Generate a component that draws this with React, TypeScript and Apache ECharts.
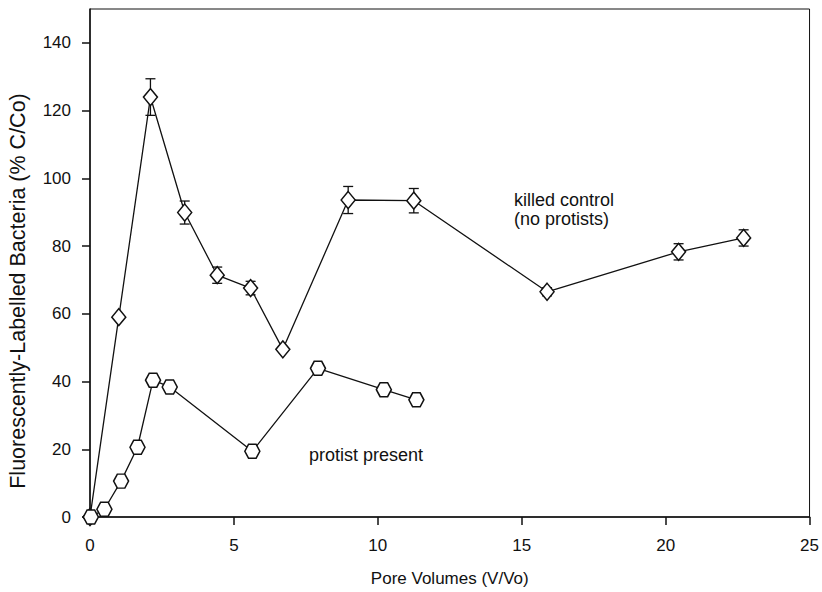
import React, { useEffect, useRef } from "react";
import * as echarts from "echarts";

const killedX = [0, 1.0, 2.1, 3.29, 4.42, 5.58, 6.7, 8.97, 11.25, 15.88, 20.45, 22.71];
const killedY = [0, 59.0, 124.0, 89.9, 71.4, 67.6, 49.5, 93.6, 93.4, 66.5, 78.3, 82.4];
const killedErr = [0, 0, 5.4, 3.4, 2.4, 2.0, 0, 4.0, 3.6, 1.2, 2.4, 2.4];

const protistX = [0.03, 0.5, 1.08, 1.65, 2.19, 2.77, 5.64, 7.92, 10.21, 11.34];
const protistY = [0, 2.3, 10.6, 20.6, 40.4, 38.4, 19.4, 43.9, 37.6, 34.6];

const xTicks = [0, 5, 10, 15, 20, 25];
const yTicks = [0, 20, 40, 60, 80, 100, 120, 140];

const FONT = "Liberation Sans, Arial, sans-serif";
const HEX = "path://M-1,0 L-0.5,-0.866 L0.5,-0.866 L1,0 L0.5,0.866 L-0.5,0.866 Z";

export default function App() {
  const ref = useRef<HTMLDivElement>(null);
  useEffect(() => {
    if (!ref.current) return;
    const chart = echarts.init(ref.current, null, { renderer: "svg" });
    const errData = killedX
      .map((x, i) => [x, killedY[i] - killedErr[i], killedY[i] + killedErr[i]])
      .filter((_, i) => killedErr[i] > 0);
    chart.setOption({
      animation: false,
      backgroundColor: "#fff",
      grid: { left: 90, right: 11, top: 9, bottom: 69, show: true, borderColor: "#111", borderWidth: 1 },
      xAxis: {
        type: "value",
        min: 0,
        max: 25,
        interval: 5,
        name: "Pore Volumes (V/Vo)",
        nameLocation: "middle",
        nameGap: 53,
        nameTextStyle: { color: "#111", fontSize: 17, fontFamily: FONT },
        axisLine: { lineStyle: { color: "#111", width: 1.5 } },
        axisTick: { show: true, length: 8, lineStyle: { color: "#111", width: 1.5 }, customValues: xTicks },
        axisLabel: { color: "#111", fontSize: 17, fontFamily: FONT, margin: 20, customValues: xTicks },
        splitLine: { show: false },
      },
      yAxis: {
        type: "value",
        min: 0,
        max: 150,
        interval: 10,
        axisLine: { lineStyle: { color: "#111", width: 1.5 } },
        axisTick: { show: true, length: 8, lineStyle: { color: "#111", width: 1.5 }, customValues: yTicks },
        axisLabel: { color: "#111", fontSize: 17, fontFamily: FONT, margin: 19, customValues: yTicks },
        splitLine: { show: false },
      },
      series: [
        {
          type: "custom",
          z: 1,
          data: errData,
          renderItem: (params: any, api: any) => {
            const x = api.value(0);
            const lo = api.coord([x, api.value(1)]);
            const hi = api.coord([x, api.value(2)]);
            const w = 5;
            const st = { stroke: "#111", lineWidth: 1.3 };
            return {
              type: "group",
              children: [
                { type: "line", shape: { x1: lo[0], y1: lo[1], x2: hi[0], y2: hi[1] }, style: st },
                { type: "line", shape: { x1: lo[0] - w, y1: lo[1], x2: lo[0] + w, y2: lo[1] }, style: st },
                { type: "line", shape: { x1: hi[0] - w, y1: hi[1], x2: hi[0] + w, y2: hi[1] }, style: st },
              ],
            };
          },
        },
        {
          type: "line",
          name: "killed control",
          z: 3,
          data: killedX.map((x, i) => [x, killedY[i]]),
          symbol: "diamond",
          symbolSize: [14, 17],
          lineStyle: { color: "#111", width: 1.3 },
          itemStyle: { color: "#fff", borderColor: "#111", borderWidth: 1.5 },
        },
        {
          type: "line",
          name: "protist present",
          z: 4,
          data: protistX.map((x, i) => [x, protistY[i]]),
          symbol: HEX,
          symbolSize: [15, 14],
          lineStyle: { color: "#111", width: 1.3 },
          itemStyle: { color: "#fff", borderColor: "#111", borderWidth: 1.5 },
        },
      ],
      graphic: [
        {
          type: "text",
          x: 18,
          y: 291,
          rotation: Math.PI / 2,
          style: {
            text: "Fluorescently-Labelled Bacteria (% C/Co)",
            fill: "#111",
            font: `21.5px ${FONT}`,
            align: "center",
            verticalAlign: "middle",
          },
        },
        { type: "text", left: 514, top: 190, style: { text: "killed control\n(no protists)", fill: "#111", font: `18px ${FONT}`, lineHeight: 19 } },
        { type: "text", left: 309, top: 446, style: { text: "protist present", fill: "#111", font: `18px ${FONT}` } },
      ],
    });
    return () => chart.dispose();
  }, []);
  return <div ref={ref} style={{ position: "absolute", left: 0, top: 0, width: 822, height: 592 }} />;
}
